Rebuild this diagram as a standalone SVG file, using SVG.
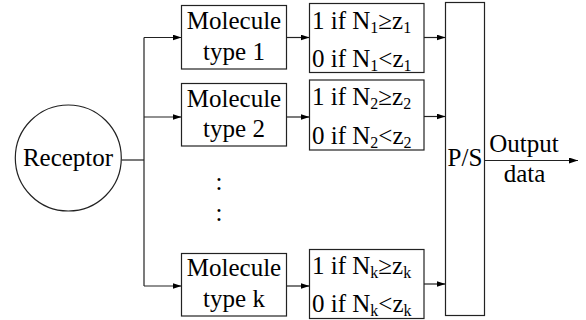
<svg xmlns="http://www.w3.org/2000/svg" width="586" height="320" viewBox="0 0 586 320">
<style>
  .box { fill: #fff; stroke: #222; stroke-width: 1.2; }
  .ln { fill: none; stroke: #222; stroke-width: 1.2; }
  .t { font-family: 'Liberation Serif', 'Times New Roman', Times, Tinos, 'Noto Serif', 'Nimbus Roman', FreeSerif, 'DejaVu Serif', serif; font-size: 25px; fill: #000; }
  .c { text-anchor: middle; }
  .sub { font-size: 16px; }
</style>
<defs>
  <marker id="ah" markerUnits="userSpaceOnUse" markerWidth="9" markerHeight="6" refX="9" refY="3" orient="auto">
    <path d="M0,0 L9,3 L0,6 z" fill="#000"/>
  </marker>
</defs>
<rect width="586" height="320" fill="#fff"/>

<g id="connectors">
  <polyline class="ln" points="121.5,160 144,160"/>
  <polyline class="ln" points="144,37.5 144,286"/>
  <line class="ln" x1="144" y1="37.5" x2="181.5" y2="37.5" marker-end="url(#ah)"/>
  <line class="ln" x1="144" y1="117" x2="181.5" y2="117" marker-end="url(#ah)"/>
  <line class="ln" x1="144" y1="286" x2="181.5" y2="286" marker-end="url(#ah)"/>
  <line class="ln" x1="286.5" y1="37.5" x2="309.5" y2="37.5" marker-end="url(#ah)"/>
  <line class="ln" x1="286.5" y1="117" x2="309.5" y2="117" marker-end="url(#ah)"/>
  <line class="ln" x1="286.5" y1="286" x2="309.5" y2="286" marker-end="url(#ah)"/>
  <line class="ln" x1="424" y1="37.5" x2="445.5" y2="37.5" marker-end="url(#ah)"/>
  <line class="ln" x1="424" y1="116.5" x2="445.5" y2="116.5" marker-end="url(#ah)"/>
  <line class="ln" x1="424" y1="284" x2="445.5" y2="284" marker-end="url(#ah)"/>
  <line class="ln" x1="484.5" y1="160.5" x2="578" y2="160.5" marker-end="url(#ah)"/>
</g>

<g id="receptor">
  <circle class="box" cx="68.3" cy="158" r="53"/>
  <text class="t c" x="68" y="166">Receptor</text>
</g>

<g id="molecule1">
  <rect class="box" x="181.5" y="5.5" width="105" height="63.5"/>
  <text class="t c" x="234" y="29">Molecule</text>
  <text class="t c" x="234" y="60">type 1</text>
</g>
<g id="molecule2">
  <rect class="box" x="181.5" y="83.5" width="105" height="62.5"/>
  <text class="t c" x="234" y="106.5">Molecule</text>
  <text class="t c" x="234" y="137">type 2</text>
</g>
<g id="moleculek">
  <rect class="box" x="181.5" y="253.5" width="105" height="62.5"/>
  <text class="t c" x="234" y="275.5">Molecule</text>
  <text class="t c" x="234" y="306.5">type k</text>
</g>

<g id="dots">
  <text class="t c" x="219" y="190">:</text>
  <text class="t c" x="219" y="221">:</text>
</g>

<g id="threshold1">
  <rect class="box" x="309.5" y="3.5" width="114.5" height="69"/>
  <text class="t" x="312" y="28.5">1 if N<tspan class="sub" dy="4">1</tspan><tspan dy="-4">≥z</tspan><tspan class="sub" dy="4">1</tspan></text>
  <text class="t" x="312" y="66.5">0 if N<tspan class="sub" dy="4">1</tspan><tspan dy="-4">&lt;z</tspan><tspan class="sub" dy="4">1</tspan></text>
</g>
<g id="threshold2">
  <rect class="box" x="309.5" y="80" width="114.5" height="70"/>
  <text class="t" x="312" y="105">1 if N<tspan class="sub" dy="4">2</tspan><tspan dy="-4">≥z</tspan><tspan class="sub" dy="4">2</tspan></text>
  <text class="t" x="312" y="143.5">0 if N<tspan class="sub" dy="4">2</tspan><tspan dy="-4">&lt;z</tspan><tspan class="sub" dy="4">2</tspan></text>
</g>
<g id="thresholdk">
  <rect class="box" x="309.5" y="249.5" width="114.5" height="69"/>
  <text class="t" x="312" y="273.5">1 if N<tspan class="sub" dy="4">k</tspan><tspan dy="-4">≥z</tspan><tspan class="sub" dy="4">k</tspan></text>
  <text class="t" x="312" y="312">0 if N<tspan class="sub" dy="4">k</tspan><tspan dy="-4">&lt;z</tspan><tspan class="sub" dy="4">k</tspan></text>
</g>

<g id="ps">
  <rect class="box" x="445.5" y="2.5" width="39" height="313"/>
  <text class="t c" x="465" y="166">P/S</text>
</g>

<g id="output">
  <text class="t c" x="524" y="151.5">Output</text>
  <text class="t c" x="524.5" y="182">data</text>
</g>
</svg>
